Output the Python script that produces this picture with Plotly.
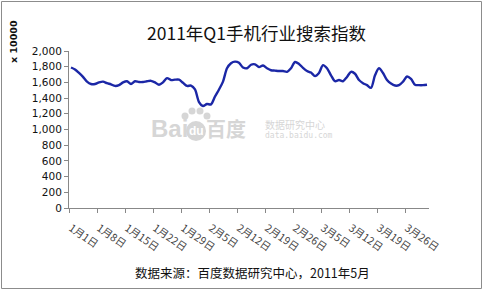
import plotly.graph_objects as go
import pandas as pd

# ---- data ----
dates = pd.date_range("2011-01-01", "2011-03-31", freq="D")
categories = [f"{d.month}月{d.day}日" for d in dates]
values = [
    1790, 1765, 1720, 1670, 1610, 1580, 1580, 1600, 1610, 1590,
    1575, 1555, 1565, 1600, 1615, 1580, 1615, 1605, 1605, 1615,
    1620, 1600, 1570, 1600, 1655, 1630, 1635, 1635, 1595, 1555,
    1560, 1510, 1350, 1300, 1325, 1320, 1420, 1510, 1610, 1780,
    1845, 1865, 1850, 1790, 1780, 1825, 1830, 1795, 1815, 1780,
    1755, 1750, 1745, 1745, 1735, 1780, 1860, 1835, 1785, 1745,
    1725, 1680, 1720, 1820, 1780, 1690, 1615, 1630, 1615, 1670,
    1735, 1710, 1630, 1590, 1565, 1530, 1690, 1780, 1720, 1630,
    1585, 1560, 1565, 1610, 1675, 1645, 1570, 1565, 1565, 1570,
]
tick_labels = categories[::7]
y_ticks = list(range(0, 2001, 200))

title_text = "2011年Q1手机行业搜索指数"
source_text = "数据来源：百度数据研究中心，2011年5月"
y_unit = "x 10000"

# ---- layout geometry (pixels) ----
W, H = 484, 293
L, R, T, B = 69, 55, 51, 85
PW, PH = W - L - R, H - T - B


def px(x):
    return (x - L) / PW


def py(y):
    return (H - B - y) / PH


CJK = "Noto Sans CJK SC"
xidx = list(range(len(categories)))

fig = go.Figure()
fig.add_trace(go.Scatter(
    x=xidx, y=values, mode="lines",
    line=dict(color="#1B27A6", width=2.4, shape="spline", smoothing=0.8),
    hoverinfo="skip", showlegend=False,
))

fig.update_layout(
    width=W, height=H,
    margin=dict(l=L, r=R, t=T, b=B),
    paper_bgcolor="white", plot_bgcolor="white",
    xaxis=dict(
        range=[-0.5, len(categories) - 0.5],
        tickmode="array", tickvals=xidx[::7], ticktext=tick_labels,
        ticks="", tickangle=35, ticklabelstandoff=9,
        tickfont=dict(family=CJK, size=10.5, color="#444"),
        showline=True, linecolor="#888", linewidth=1,
        showgrid=False, zeroline=False,
        minor=dict(tickmode="linear", tick0=-0.5, dtick=7, ticks="outside",
                   ticklen=4, tickcolor="#888", showgrid=False),
    ),
    yaxis=dict(
        range=[0, 2000], tickmode="array", tickvals=y_ticks,
        tickformat=",", ticks="outside", ticklen=4, tickcolor="#888",
        tickfont=dict(family="DejaVu Sans", size=10.5, color="#111"),
        showline=True, linecolor="#888", linewidth=1,
        showgrid=False, zeroline=False,
    ),
)

ann = []
ann.append(dict(text=title_text, x=px(256), y=py(32), xref="paper", yref="paper",
                showarrow=False, xanchor="center", yanchor="middle",
                font=dict(family=CJK, size=17.5, color="#111")))
ann.append(dict(text=f"<b>{y_unit}</b>", x=px(13), y=py(42), xref="paper", yref="paper",
                showarrow=False, textangle=-90, xanchor="center", yanchor="middle",
                font=dict(family="DejaVu Sans", size=9.5, color="#111")))
ann.append(dict(text=source_text, x=px(252), y=py(272), xref="paper", yref="paper",
                showarrow=False, xanchor="center", yanchor="middle",
                font=dict(family=CJK, size=12.5, color="#111")))
# watermark
wm = "#d6d6d6"
ann.append(dict(text="<b>Bai</b>", x=px(169), y=py(128), xref="paper", yref="paper",
                showarrow=False, xanchor="center", yanchor="middle",
                font=dict(family="Liberation Sans", size=24, color=wm)))
ann.append(dict(text="<b>du</b>", x=px(196), y=py(131), xref="paper", yref="paper",
                showarrow=False, xanchor="center", yanchor="middle",
                font=dict(family="Liberation Sans", size=12, color="white")))
ann.append(dict(text="<b>百度</b>", x=px(226), y=py(128), xref="paper", yref="paper",
                showarrow=False, xanchor="center", yanchor="middle",
                font=dict(family=CJK, size=20, color=wm)))
ann.append(dict(text="数据研究中心", x=px(263), y=py(124), xref="paper", yref="paper",
                showarrow=False, xanchor="left", yanchor="middle",
                font=dict(family=CJK, size=10, color=wm)))
ann.append(dict(text="data.baidu.com", x=px(263), y=py(135), xref="paper", yref="paper",
                showarrow=False, xanchor="left", yanchor="middle",
                font=dict(family="DejaVu Sans Mono", size=8, color=wm)))
fig.update_layout(annotations=ann)

shapes = []
# paw of watermark
shapes.append(dict(type="circle", xref="paper", yref="paper",
                   x0=px(186), x1=px(206), y0=py(141), y1=py(121),
                   fillcolor=wm, line=dict(width=0), layer="below"))
for cx, cy, r in [(185, 116, 3.5), (192, 111, 3.5), (200, 111, 3.5), (207, 116, 3.5)]:
    shapes.append(dict(type="circle", xref="paper", yref="paper",
                       x0=px(cx - r), x1=px(cx + r), y0=py(cy + r), y1=py(cy - r),
                       fillcolor=wm, line=dict(width=0), layer="below"))
# outer frame
shapes.append(dict(type="rect", xref="paper", yref="paper",
                   x0=px(1.5), x1=px(481.5), y0=py(288.5), y1=py(1.5),
                   line=dict(color="#8c8c8c", width=1), fillcolor="rgba(0,0,0,0)"))
fig.update_layout(shapes=shapes)

fig.write_html("out.html")
